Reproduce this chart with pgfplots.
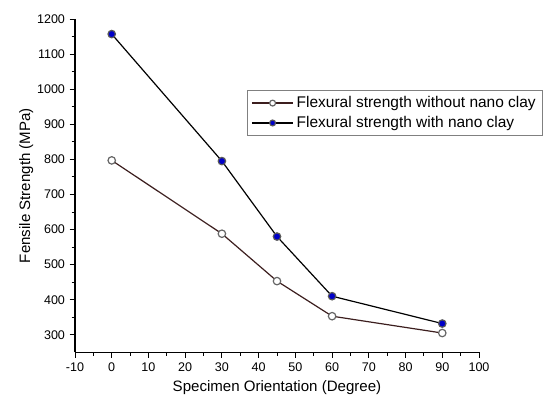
\documentclass[border=0pt]{standalone}
\usepackage{pgfplots}
\pgfplotsset{compat=1.18}
\usetikzlibrary{calc}
\usepackage{fontspec}
\setmainfont{Liberation Sans}

\definecolor{navy}{RGB}{0,0,200}
\definecolor{darkbrown}{RGB}{60,30,30}

\begin{document}
\begin{tikzpicture}
\begin{axis}[
    scale only axis,
    width=303pt, height=250pt,
    xmin=-10, xmax=100,
    ymin=250, ymax=1200,
    axis lines*=left,
    axis line style={black, line width=0.8pt},
    xtick={-10,0,...,100},
    ytick={300,400,...,1200},
    minor x tick num=1,
    minor y tick num=1,
    tick align=outside,
    major tick length=4pt,
    minor tick length=2.5pt,
    tick style={black, line width=0.7pt},
    ticklabel style={font=\fontsize{9.4}{10}\selectfont},
    /pgf/number format/assume math mode=true,
    /pgf/number format/1000 sep={},
    xlabel={Specimen Orientation (Degree)},
    ylabel={Fensile Strength (MPa)},
    label style={font=\fontsize{11.3}{12}\selectfont},
    ylabel style={yshift=-4pt},
    legend style={at={(axis cs:36.8,997)}, anchor=north west,
        draw=gray, font=\fontsize{11.6}{13}\selectfont,
        row sep=1pt, inner xsep=3pt, inner ysep=2.5pt},
    legend cell align=left,
    legend image code/.code={
        \draw[mark repeat=2, mark phase=2, #1, mark size=2.2pt]
            plot coordinates {(0cm,0cm) (0.55cm,0cm) (1.1cm,0cm)};},
    clip=false,
]
\addplot[darkbrown, line width=0.9pt, mark=*, mark size=2.8pt,
    mark options={fill=white, draw=gray!80!black}]
  coordinates {(0,797) (30,588) (45,453) (60,353) (90,305)};
\addlegendentry{Flexural strength without nano clay}
\addplot[black, line width=0.9pt, mark=*, mark size=2.8pt,
    mark options={fill=navy, draw=gray!70!black}]
  coordinates {(0,1157) (30,795) (45,580) (60,410) (90,332)};
\addlegendentry{Flexural strength with nano clay}
\end{axis}
\pgfresetboundingbox
\useasboundingbox ($(current axis.south west)+(-56.25pt,-39.75pt)$)
    rectangle ($(current axis.north east)+(50.25pt,14.25pt)$);
\end{tikzpicture}
\end{document}
